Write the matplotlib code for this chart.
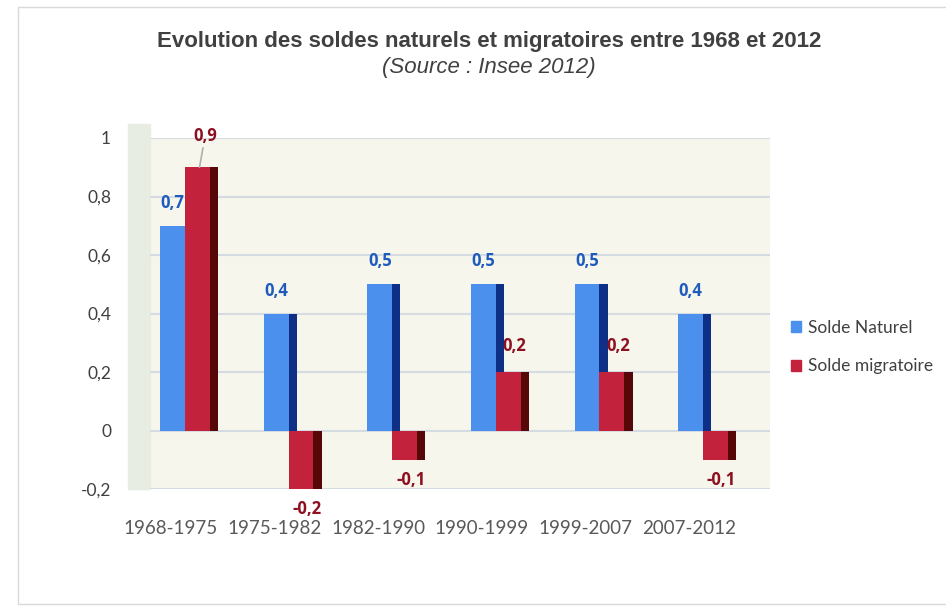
import matplotlib
matplotlib.use('Agg')
import matplotlib.pyplot as plt
import matplotlib.transforms as mtransforms
from matplotlib.patches import Rectangle
import numpy as np

periodes = ['1968-1975', '1975-1982', '1982-1990', '1990-1999', '1999-2007', '2007-2012']
naturel = [0.7, 0.4, 0.5, 0.5, 0.5, 0.4]
migratoire = [0.9, -0.2, -0.1, 0.2, 0.2, -0.1]
yticks = [-0.2, 0, 0.2, 0.4, 0.6, 0.8, 1.0]

bleu, bleu_cote = '#4a90ec', '#0d2f86'
rouge, rouge_cote = '#c2223b', '#560808'
gris = '#404040'

fig = plt.figure(figsize=(9.46, 6.07), dpi=100)
fig.patch.set_facecolor('white')
ax = fig.add_axes([150/946, 1-489/607, 620/946, (489-138)/607])
ax.set_facecolor('#f6f6ec')

x = np.arange(len(periodes))
w = 0.24
d = 0.08

# front faces + side faces (fake 3D like the Excel chart)
ax.bar(x - w/2, naturel, w, color=bleu, zorder=3)
ax.bar(x + d/2 - 0.001, naturel, d, color=bleu_cote, zorder=2)
ax.bar(x + w/2, migratoire, w, color=rouge, zorder=5)
ax.bar(x + w + d/2, migratoire, d, color=rouge_cote, zorder=4)

for xi, v in zip(x, naturel):
    ax.annotate(('%.1f' % v).replace('.', ','), (xi - w/2, v), xytext=(0, 10),
                textcoords='offset points', ha='center', va='bottom',
                color='#1f5bbd', fontsize=12, fontweight='bold', family='Open Sans', zorder=6)
for xi, v in zip(x, migratoire):
    if v > 0.5:
        ax.annotate(('%.1f' % v).replace('.', ','), (xi + w/2 + 0.02, v), xytext=(4, 16),
                    textcoords='offset points', ha='center', va='bottom',
                    color='#8c1020', fontsize=12, fontweight='bold', family='Open Sans',
                    arrowprops=dict(arrowstyle='-', color='#b0b0b0', lw=1.2,
                                    shrinkA=0, shrinkB=0), zorder=6)
    elif v > 0:
        ax.annotate(('%.1f' % v).replace('.', ','), (xi + w/2 + 0.06, v), xytext=(0, 12),
                    textcoords='offset points', ha='center', va='bottom',
                    color='#8c1020', fontsize=12, fontweight='bold', family='Open Sans', zorder=6)
    else:
        ax.annotate(('%.1f' % v).replace('.', ','), (xi + w/2 + 0.06, v), xytext=(0, -8),
                    textcoords='offset points', ha='center', va='top',
                    color='#8c1020', fontsize=12, fontweight='bold', family='Open Sans', zorder=6)

ax.set_xlim(-0.338, 5.647)
ax.set_ylim(-0.2, 1.0)
ax.set_yticks(yticks)
ax.set_yticklabels([('%g' % t).replace('.', ',') for t in yticks],
                   fontsize=12.5, color=gris, family='Lato')
ax.yaxis.grid(True, color='#d5dbe2', lw=1.5, zorder=0)
ax.set_axisbelow(True)
ax.set_xticks(x)
ax.set_xticklabels(periodes, fontsize=13.5, color='#595959', family='Lato')
ax.tick_params(length=0)
ax.tick_params(axis='x', pad=22)
ax.tick_params(axis='y', pad=28)
shift = mtransforms.ScaledTranslation(-14/100, 0, fig.dpi_scale_trans)
for lab in ax.get_xticklabels():
    lab.set_transform(lab.get_transform() + shift)
for s in ax.spines.values():
    s.set_visible(False)

# left side wall
ax.add_patch(Rectangle((-0.035, 0), 0.035, 1.04, transform=ax.transAxes,
                       color='#e8ede3', clip_on=False, zorder=0))

leg = [Rectangle((0, 0), 1, 1, color=bleu), Rectangle((0, 0), 1, 1, color=rouge)]
fig.legend(leg, ['Solde Naturel', 'Solde migratoire'], loc='center left',
           bbox_to_anchor=(775/946, 1-347/607), frameon=False, handlelength=0.6,
           handleheight=0.6, handletextpad=0.4, labelspacing=1.3,
           prop={'family': 'Lato', 'size': 12.5}, labelcolor=gris)

fig.text(489/946, 1-42/607, 'Evolution des soldes naturels et migratoires entre 1968 et 2012',
         ha='center', va='center', fontsize=16, fontweight='bold', color=gris,
         family='Liberation Sans')
fig.text(489/946, 1-68/607, '(Source : Insee 2012)', ha='center', va='center',
         fontsize=16, style='italic', color=gris, family='Liberation Sans')

fig.patches.append(Rectangle((18/946, 0.005), 1, 1 - 10/607, transform=fig.transFigure,
                             fill=False, ec='#d9d9d9', lw=1))

fig.savefig('out.png', dpi=100)
